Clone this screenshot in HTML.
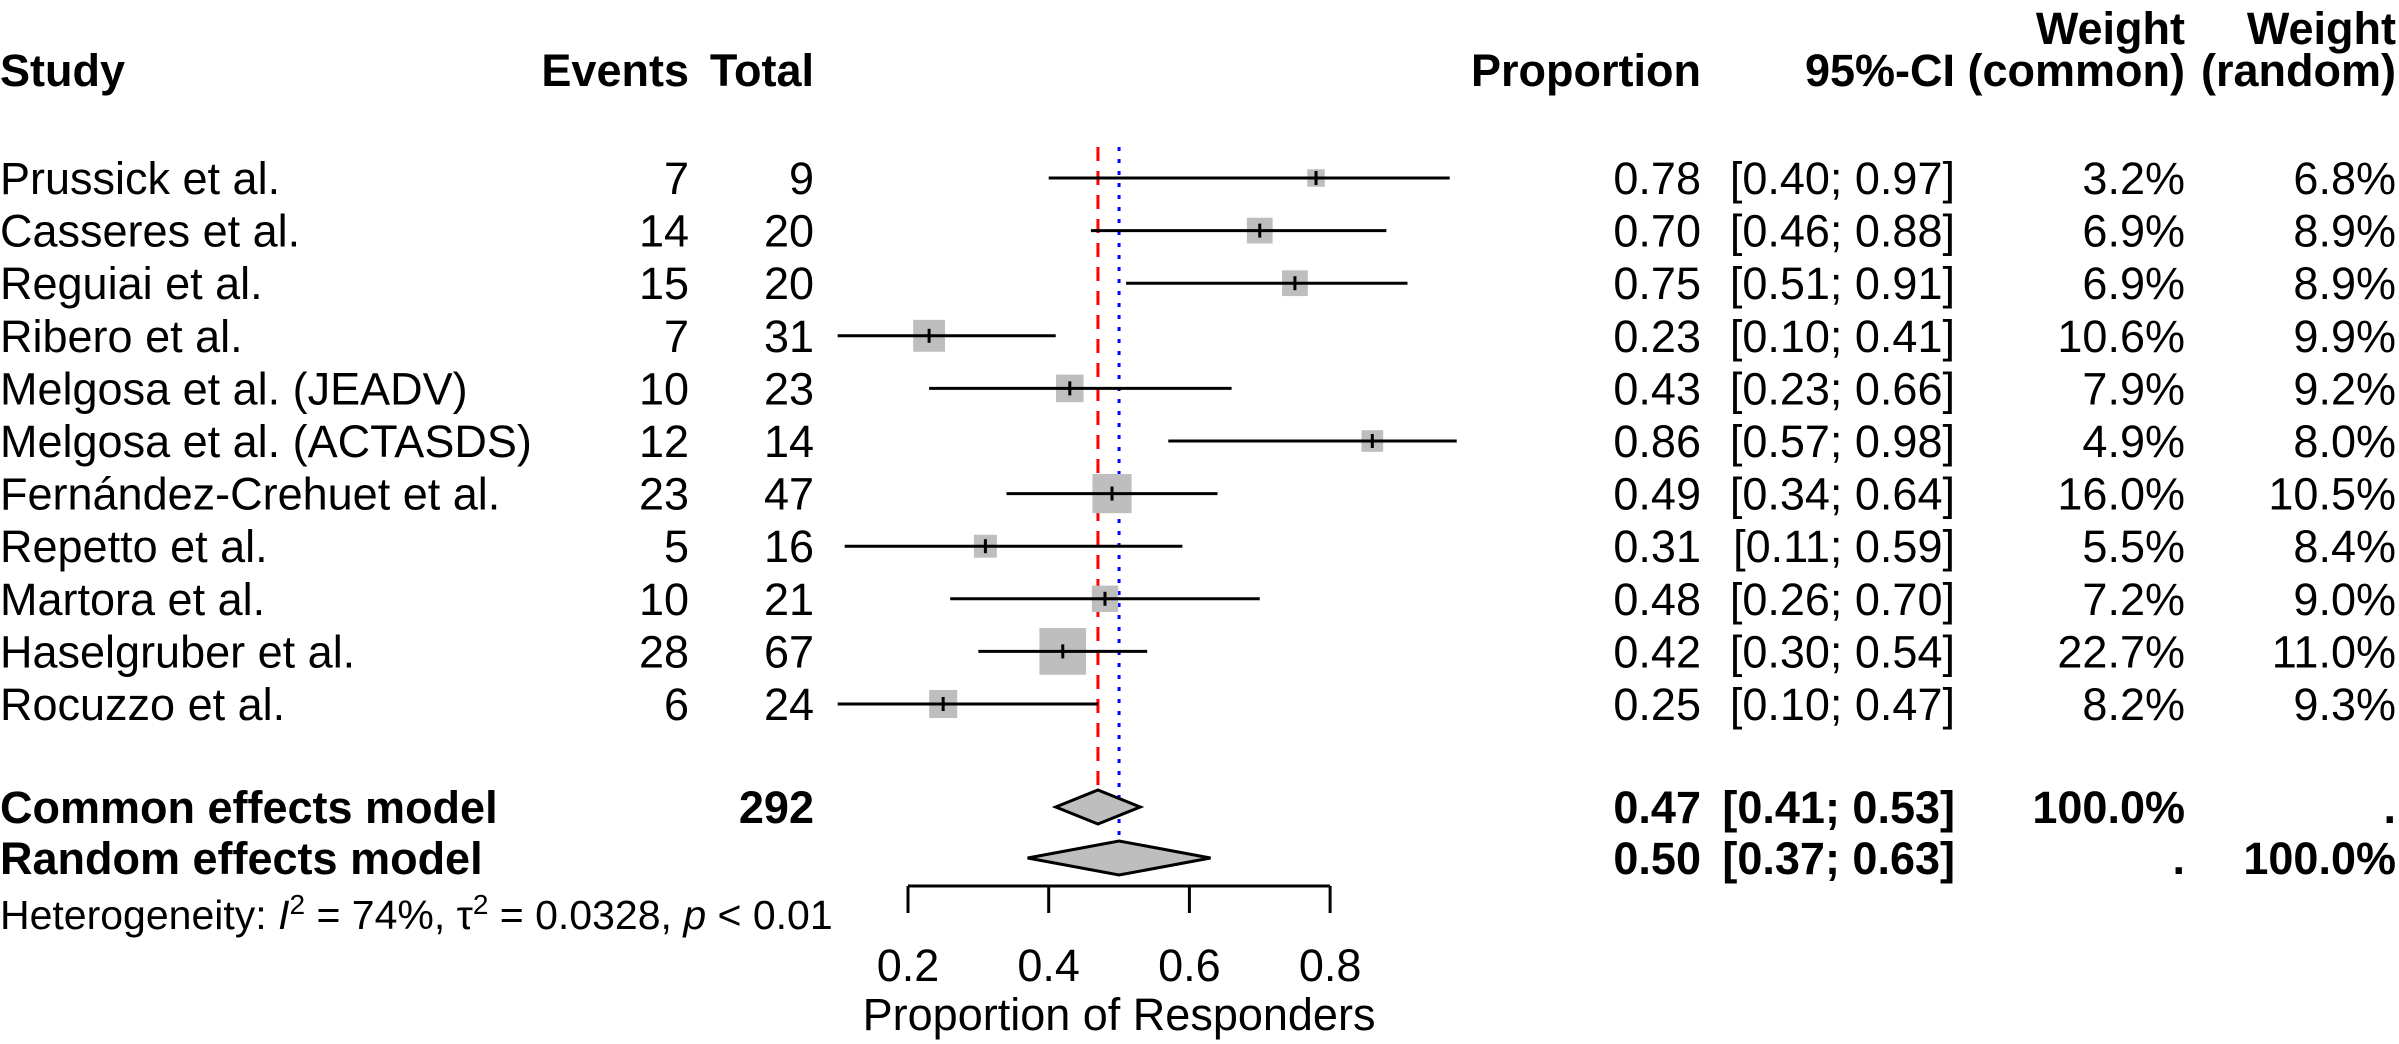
<!DOCTYPE html>
<html><head><meta charset="utf-8"><style>
html,body{margin:0;padding:0;background:#fff;}
svg{display:block;font-family:"Liberation Sans",Arial,sans-serif;}
</style></head><body>
<svg id="chart" width="2399" height="1044" viewBox="0 0 2399 1044" xmlns="http://www.w3.org/2000/svg"></svg>
<script>
const studies=["Prussick et al.","Casseres et al.","Reguiai et al.","Ribero et al.","Melgosa et al. (JEADV)","Melgosa et al. (ACTASDS)","Fernández-Crehuet et al.","Repetto et al.","Martora et al.","Haselgruber et al.","Rocuzzo et al."];
const events=[7,14,15,7,10,12,23,5,10,28,6];
const totals=[9,20,20,31,23,14,47,16,21,67,24];
const props=[0.78,0.70,0.75,0.23,0.43,0.86,0.49,0.31,0.48,0.42,0.25];
const lower=[0.40,0.46,0.51,0.10,0.23,0.57,0.34,0.11,0.26,0.30,0.10];
const upper=[0.97,0.88,0.91,0.41,0.66,0.98,0.64,0.59,0.70,0.54,0.47];
const wCommon=[3.2,6.9,6.9,10.6,7.9,4.9,16.0,5.5,7.2,22.7,8.2];
const wRandom=[6.8,8.9,8.9,9.9,9.2,8.0,10.5,8.4,9.0,11.0,9.3];
const commonEst=[0.47,0.41,0.53];
const randomEst=[0.50,0.37,0.63];
const ticks=[0.2,0.4,0.6,0.8];

const svg=document.getElementById('chart');
const NS='http://www.w3.org/2000/svg';
const x=p=>908+(p-0.2)*703.5;
const rowY=i=>178+i*52.6;
const FS=45;
function mk(tag,attrs){const e=document.createElementNS(NS,tag);for(const k in attrs)e.setAttribute(k,attrs[k]);svg.appendChild(e);return e;}
function txt(s,xx,yy,anchor,bold,size){const t=mk('text',{x:xx,y:yy,'text-anchor':anchor||'start','font-size':size||FS,'font-weight':bold?'bold':'normal',fill:'#000'});t.textContent=s;return t;}
const f2=v=>v.toFixed(2);
const ci=(l,u)=>'['+f2(l)+'; '+f2(u)+']';

let h;
h=txt('Study',0,86,'start',true);
h=txt('Events',689,86,'end',true);
h=txt('Total',814,86,'end',true);
h=txt('Proportion',1701,86,'end',true);
h=txt('95%-CI',1955,86,'end',true);
h=txt('Weight',2185,44,'end',true);
h=txt('(common)',2185,86,'end',true);
h=txt('Weight',2396,44,'end',true);
h=txt('(random)',2396,86,'end',true);

const yTop=147;
let ln=mk('line',{x1:x(commonEst[0]),x2:x(commonEst[0]),y1:yTop,y2:790,stroke:'#ff0000','stroke-width':3,'stroke-dasharray':'14,10'});


ln=mk('line',{x1:x(randomEst[0]),x2:x(randomEst[0]),y1:yTop,y2:843,stroke:'#0000ff','stroke-width':3,'stroke-dasharray':'4,8'});



studies.forEach((s,i)=>{
  const y=rowY(i), b=y+16;
  let t=txt(s,0,b);
  t=txt(String(events[i]),689,b,'end');
  t=txt(String(totals[i]),814,b,'end');
  t=txt(f2(props[i]),1701,b,'end');
  t=txt(ci(lower[i],upper[i]),1955,b,'end');
  t=txt(wCommon[i].toFixed(1)+'%',2185,b,'end');
  t=txt(wRandom[i].toFixed(1)+'%',2396,b,'end');
  const side=9.8*Math.sqrt(wCommon[i]);
  const sq=mk('rect',{x:x(props[i])-side/2,y:y-side/2,width:side,height:side,fill:'#bebebe'});
  
  
  const l=mk('line',{x1:x(lower[i]),x2:x(upper[i]),y1:y,y2:y,stroke:'#000','stroke-width':3});
  
  
  const tk=mk('line',{x1:x(props[i]),x2:x(props[i]),y1:y-7,y2:y+7,stroke:'#000','stroke-width':3});
  
  
});

function diamond(est,y,name){
  const d=mk('polygon',{points:`${x(est[1])},${y} ${x(est[0])},${y-17} ${x(est[2])},${y} ${x(est[0])},${y+17}`,fill:'#bebebe',stroke:'#000','stroke-width':3});
  
  
}
const yc=807, yr=858;
diamond(commonEst,yc,'common-diamond');
diamond(randomEst,yr,'random-diamond');
let t;
t=txt('Common effects model',0,yc+16,'start',true);
t=txt(String(totals.reduce((a,b)=>a+b,0)),814,yc+16,'end',true);
t=txt(f2(commonEst[0]),1701,yc+16,'end',true);
t=txt(ci(commonEst[1],commonEst[2]),1955,yc+16,'end',true);
t=txt('100.0%',2185,yc+16,'end',true);
t=txt('.',2396,yc+16,'end',true);
t=txt('Random effects model',0,yr+16,'start',true);
t=txt(f2(randomEst[0]),1701,yr+16,'end',true);
t=txt(ci(randomEst[1],randomEst[2]),1955,yr+16,'end',true);
t=txt('.',2185,yr+16,'end',true);
t=txt('100.0%',2396,yr+16,'end',true);

const het=mk('text',{x:0,y:929,'font-size':41,fill:'#000'});


het.innerHTML='Heterogeneity: <tspan font-style="italic">I</tspan><tspan dy="-15" font-size="28">2</tspan><tspan dy="15"> = 74%, τ</tspan><tspan dy="-15" font-size="28">2</tspan><tspan dy="15"> = 0.0328, </tspan><tspan font-style="italic">p</tspan> &lt; 0.01';

const ay=886;
const ax=mk('line',{x1:x(ticks[0]),x2:x(ticks[ticks.length-1]),y1:ay,y2:ay,stroke:'#000','stroke-width':3});


ticks.forEach(v=>{
  const tl=mk('line',{x1:x(v),x2:x(v),y1:ay,y2:913,stroke:'#000','stroke-width':3});
  
  
  const lb=txt(v.toFixed(1),x(v),981,'middle');
  
  
});
t=txt('Proportion of Responders',x(0.5),1030,'middle');


</script>
</body></html>
